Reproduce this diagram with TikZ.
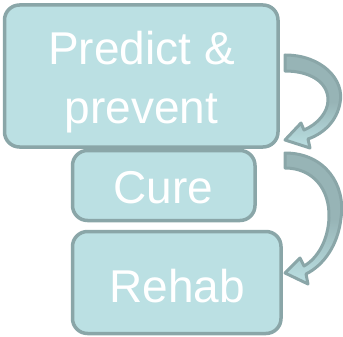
\documentclass[tikz,border=0pt]{standalone}
\usepackage{fontspec}
\setmainfont{Liberation Sans}
\definecolor{boxfill}{HTML}{BBE0E3}
\definecolor{boxline}{HTML}{8AA6A8}
\definecolor{arrmid}{HTML}{97B4B6}
\tikzset{
  stagebox/.style={draw=boxline, fill=boxfill, line width=3.5pt, rounded corners=15pt, inner sep=0pt},
  stagetext/.style={anchor=base, text=white, inner sep=0pt, font=\fontsize{46}{58}\selectfont},
  curvearrow/.style={draw=boxline, line width=3pt, line join=round, top color=arrmid, bottom color=boxfill, middle color=arrmid}
}
\begin{document}
\begin{tikzpicture}[x=1pt,y=-1pt]
\useasboundingbox (0,0) rectangle (343,337);
% boxes
\node[stagebox, minimum width=273.5pt, minimum height=142pt] (b1) at (141.25,76) {};
\node[stagebox, minimum width=182.5pt, minimum height=70pt] (b2) at (163.75,185.5) {};
\node[stagebox, minimum width=208.5pt, minimum height=102pt] (b3) at (176.75,282.5) {};
% texts
\node[stagetext] (t1a) at (141.5,65) {Predict \&};
\node[stagetext] (t1b) at (141.5,123) {prevent};
\node[stagetext] (t2) at (163.5,203) {Cure};
\node[stagetext] (t3) at (177,302) {Rehab};
% curved arrows
\path[curvearrow] (285,55) .. controls (322,55) and (345,80) .. (340,103)
  .. controls (337,120) and (325,133) .. (308,139) -- (310,148) -- (285,140) -- (301,123) -- (304,130)
  .. controls (318,124) and (328,112) .. (328,100)
  .. controls (328,82) and (310,71) .. (285,71) -- cycle;
\path[curvearrow] (285,153) .. controls (325,153) and (346,185) .. (341,218)
  .. controls (338,245) and (324,265) .. (306,274) -- (308,284) -- (285,273) -- (300,258) -- (304,266)
  .. controls (318,258) and (328,240) .. (329,218)
  .. controls (330,188) and (312,168) .. (285,168) -- cycle;
\end{tikzpicture}
\end{document}
